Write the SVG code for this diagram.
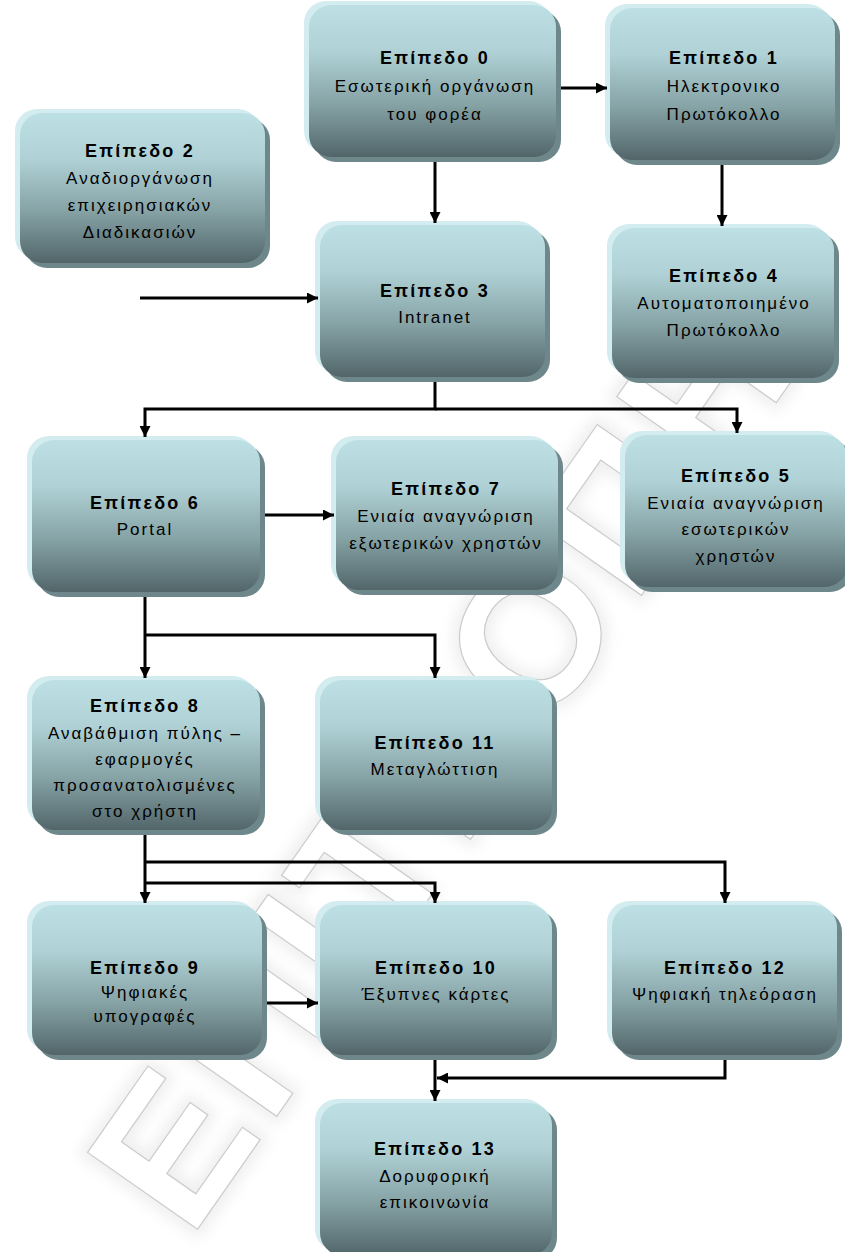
<svg xmlns="http://www.w3.org/2000/svg" width="845" height="1252" viewBox="0 0 845 1252">
  <defs>
    <linearGradient id="boxFill" x1="0" y1="0" x2="0" y2="1">
      <stop offset="0" stop-color="#bde0e4"/>
      <stop offset="0.3" stop-color="#b0d2d6"/>
      <stop offset="0.65" stop-color="#86a3a6"/>
      <stop offset="1" stop-color="#52666a"/>
    </linearGradient>
    <marker id="arrow" markerUnits="userSpaceOnUse" markerWidth="11" markerHeight="11" viewBox="0 0 12 12" refX="12" refY="6" orient="auto">
      <path d="M0,0 L12,6 L0,12 Z" fill="#000"/>
    </marker>
    <filter id="soft" x="-10%" y="-10%" width="120%" height="120%">
      <feGaussianBlur stdDeviation="7"/>
    </filter>
  </defs>
  <style>
    .halo { fill: #d3ecef; }
    .shade { fill: #6e878a; }
    .body { fill: url(#boxFill); }
    .title { font-family: "Liberation Sans", Arial, sans-serif; font-weight: bold; font-size: 18px; letter-spacing: 2.2px; fill: #000; text-anchor: middle; }
    .line { font-family: "Liberation Sans", Arial, sans-serif; font-size: 17px; letter-spacing: 2px; fill: #000; text-anchor: middle; }
    .wire { fill: none; stroke: #000; stroke-width: 3; }
    .mark { font-family: "Liberation Sans", Arial, sans-serif; font-weight: bold; font-size: 195px; letter-spacing: 8px; }
  </style>

  <rect width="845" height="1252" fill="#fff"/>

  <!-- faint background watermark -->
  <g id="watermark" transform="translate(190,1240) rotate(-55)" opacity="0.45">
    <text class="mark" x="0" y="0" fill="#dcdcdc" stroke="#dcdcdc" stroke-width="14" filter="url(#soft)">ΕΠΙΤΡΟΠΗ</text>
    <text class="mark" x="0" y="0" fill="#ffffff" stroke="#8f8f8f" stroke-width="1.2">ΕΠΙΤΡΟΠΗ</text>
  </g>

  <!-- Level 0 -->
  <g id="n0">
    <rect class="halo" x="304" y="1" width="247" height="152" rx="22"/>
    <rect class="shade" x="314" y="10" width="247" height="152" rx="22"/>
    <rect class="body" x="309" y="5" width="247" height="152" rx="22"/>
    <text class="title" x="435" y="64">Επίπεδο 0</text>
    <text class="line" x="435" y="92">Εσωτερική οργάνωση</text>
    <text class="line" x="435" y="120">του φορέα</text>
  </g>

  <!-- Level 1 -->
  <g id="n1">
    <rect class="halo" x="605" y="4" width="225" height="152" rx="22"/>
    <rect class="shade" x="615" y="13" width="225" height="152" rx="22"/>
    <rect class="body" x="610" y="8" width="225" height="152" rx="22"/>
    <text class="title" x="724" y="64">Επίπεδο 1</text>
    <text class="line" x="724" y="92">Ηλεκτρονικο</text>
    <text class="line" x="724" y="120">Πρωτόκολλο</text>
  </g>

  <!-- Level 2 -->
  <g id="n2">
    <rect class="halo" x="15" y="109" width="245" height="150" rx="22"/>
    <rect class="shade" x="25" y="118" width="245" height="150" rx="22"/>
    <rect class="body" x="20" y="113" width="245" height="150" rx="22"/>
    <text class="title" x="140" y="157">Επίπεδο 2</text>
    <text class="line" x="140" y="184">Αναδιοργάνωση</text>
    <text class="line" x="140" y="211">επιχειρησιακών</text>
    <text class="line" x="140" y="238">Διαδικασιών</text>
  </g>

  <!-- Level 3 -->
  <g id="n3">
    <rect class="halo" x="315" y="221" width="225" height="152" rx="22"/>
    <rect class="shade" x="325" y="230" width="225" height="152" rx="22"/>
    <rect class="body" x="320" y="225" width="225" height="152" rx="22"/>
    <text class="title" x="435" y="297">Επίπεδο 3</text>
    <text class="line" x="435" y="323">Intranet</text>
  </g>

  <!-- Level 4 -->
  <g id="n4">
    <rect class="halo" x="607" y="224" width="222" height="150" rx="22"/>
    <rect class="shade" x="617" y="233" width="222" height="150" rx="22"/>
    <rect class="body" x="612" y="228" width="222" height="150" rx="22"/>
    <text class="title" x="724" y="282">Επίπεδο 4</text>
    <text class="line" x="724" y="309">Αυτοματοποιημένο</text>
    <text class="line" x="724" y="336">Πρωτόκολλο</text>
  </g>

  <!-- Level 5 -->
  <g id="n5">
    <rect class="halo" x="620" y="431" width="222" height="152" rx="22"/>
    <rect class="shade" x="630" y="440" width="222" height="152" rx="22"/>
    <rect class="body" x="625" y="435" width="222" height="152" rx="22"/>
    <text class="title" x="736" y="482">Επίπεδο 5</text>
    <text class="line" x="736" y="509">Ενιαία αναγνώριση</text>
    <text class="line" x="736" y="535">εσωτερικών</text>
    <text class="line" x="736" y="562">χρηστών</text>
  </g>

  <!-- Level 6 -->
  <g id="n6">
    <rect class="halo" x="27" y="436" width="228" height="152" rx="22"/>
    <rect class="shade" x="37" y="445" width="228" height="152" rx="22"/>
    <rect class="body" x="32" y="440" width="228" height="152" rx="22"/>
    <text class="title" x="145" y="509">Επίπεδο 6</text>
    <text class="line" x="145" y="535">Portal</text>
  </g>

  <!-- Level 7 -->
  <g id="n7">
    <rect class="halo" x="331" y="436" width="222" height="150" rx="22"/>
    <rect class="shade" x="341" y="445" width="222" height="150" rx="22"/>
    <rect class="body" x="336" y="440" width="222" height="150" rx="22"/>
    <text class="title" x="446" y="495">Επίπεδο 7</text>
    <text class="line" x="446" y="522">Ενιαία αναγνώριση</text>
    <text class="line" x="446" y="549">εξωτερικών χρηστών</text>
  </g>

  <!-- Level 8 -->
  <g id="n8">
    <rect class="halo" x="27" y="676" width="228" height="150" rx="22"/>
    <rect class="shade" x="37" y="685" width="228" height="150" rx="22"/>
    <rect class="body" x="32" y="680" width="228" height="150" rx="22"/>
    <text class="title" x="145" y="712">Επίπεδο 8</text>
    <text class="line" x="145" y="739">Αναβάθμιση πύλης –</text>
    <text class="line" x="145" y="765">εφαρμογές</text>
    <text class="line" x="145" y="791">προσανατολισμένες</text>
    <text class="line" x="145" y="817">στο χρήστη</text>
  </g>

  <!-- Level 11 -->
  <g id="n11">
    <rect class="halo" x="315" y="676" width="232" height="150" rx="22"/>
    <rect class="shade" x="325" y="685" width="232" height="150" rx="22"/>
    <rect class="body" x="320" y="680" width="232" height="150" rx="22"/>
    <text class="title" x="435" y="749">Επίπεδο 11</text>
    <text class="line" x="435" y="775">Μεταγλώττιση</text>
  </g>

  <!-- Level 9 -->
  <g id="n9">
    <rect class="halo" x="27" y="901" width="230" height="150" rx="22"/>
    <rect class="shade" x="37" y="910" width="230" height="150" rx="22"/>
    <rect class="body" x="32" y="905" width="230" height="150" rx="22"/>
    <text class="title" x="145" y="974">Επίπεδο 9</text>
    <text class="line" x="145" y="998">Ψηφιακές</text>
    <text class="line" x="145" y="1022">υπογραφές</text>
  </g>

  <!-- Level 10 -->
  <g id="n10">
    <rect class="halo" x="315" y="901" width="232" height="150" rx="22"/>
    <rect class="shade" x="325" y="910" width="232" height="150" rx="22"/>
    <rect class="body" x="320" y="905" width="232" height="150" rx="22"/>
    <text class="title" x="436" y="974">Επίπεδο 10</text>
    <text class="line" x="436" y="1000">Έξυπνες κάρτες</text>
  </g>

  <!-- Level 12 -->
  <g id="n12">
    <rect class="halo" x="607" y="901" width="225" height="150" rx="22"/>
    <rect class="shade" x="617" y="910" width="225" height="150" rx="22"/>
    <rect class="body" x="612" y="905" width="225" height="150" rx="22"/>
    <text class="title" x="725" y="974">Επίπεδο 12</text>
    <text class="line" x="725" y="1000">Ψηφιακή τηλεόραση</text>
  </g>

  <!-- Level 13 -->
  <g id="n13">
    <rect class="halo" x="315" y="1099" width="232" height="152" rx="22"/>
    <rect class="shade" x="325" y="1108" width="232" height="152" rx="22"/>
    <rect class="body" x="320" y="1103" width="232" height="152" rx="22"/>
    <text class="title" x="435" y="1155">Επίπεδο 13</text>
    <text class="line" x="435" y="1182">Δορυφορική</text>
    <text class="line" x="435" y="1208">επικοινωνία</text>
  </g>

  <!-- connectors -->
  <g id="connectors" class="wire">
    <path d="M561,88 H607" marker-end="url(#arrow)"/>
    <path d="M435,162 V223" marker-end="url(#arrow)"/>
    <path d="M722,165 V226" marker-end="url(#arrow)"/>
    <path d="M140,298 H318" marker-end="url(#arrow)"/>
    <path d="M435,382 V409 H145 V437" marker-end="url(#arrow)"/>
    <path d="M435,409 H737 V433" marker-end="url(#arrow)"/>
    <path d="M265,515 H334" marker-end="url(#arrow)"/>
    <path d="M145,597 V678" marker-end="url(#arrow)"/>
    <path d="M145,635 H435 V678" marker-end="url(#arrow)"/>
    <path d="M145,835 V903" marker-end="url(#arrow)"/>
    <path d="M145,862 H725 V903" marker-end="url(#arrow)"/>
    <path d="M145,883 H435 V903" marker-end="url(#arrow)"/>
    <path d="M267,1003 H318" marker-end="url(#arrow)"/>
    <path d="M435,1060 V1101" marker-end="url(#arrow)"/>
    <path d="M725,1060 V1078 H437" marker-end="url(#arrow)"/>
  </g>
</svg>
